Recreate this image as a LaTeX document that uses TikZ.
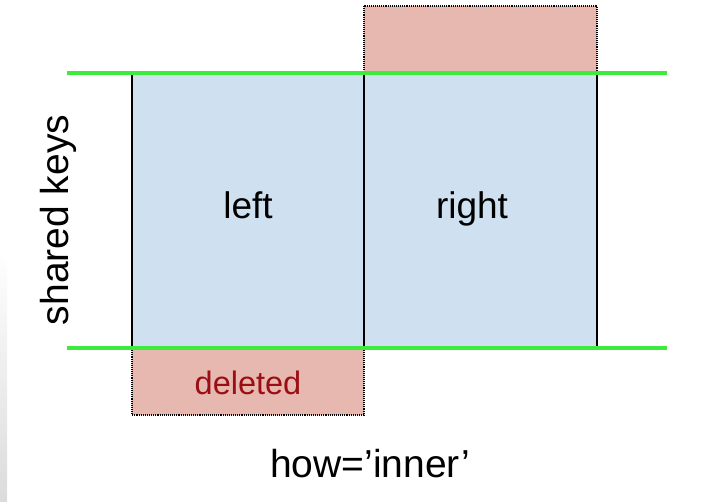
\documentclass[tikz,border=0pt]{standalone}
\usepackage{fontspec}
\setmainfont{Liberation Sans}
\begin{document}
\begin{tikzpicture}[x=1pt,y=-1pt,
  keep/.style={fill=keepblue,draw=black,line width=1.3pt},
  drop/.style={fill=dropred,draw=black,line width=1.1pt,densely dotted},
  keyline/.style={draw=keygreen,line width=3.5pt},
  lbl/.style={font=\fontsize{37}{40}\selectfont,text=black,inner sep=0pt,anchor=base},
  biglbl/.style={lbl,font=\fontsize{39}{42}\selectfont},
  dlbl/.style={font=\fontsize{32.5}{36}\selectfont,text=delred,inner sep=0pt,anchor=base}]
\definecolor{keepblue}{RGB}{207,224,240}
\definecolor{dropred}{RGB}{230,184,175}
\definecolor{keygreen}{RGB}{60,235,60}
\definecolor{delred}{RGB}{155,15,20}
\useasboundingbox (0,0) rectangle (712,501);
\shade[top color=white,bottom color=black!14] (0,250) rectangle (7,501);
% boxes
\path[drop] (364,6) rectangle (597,73);
\path[drop] (132,348) rectangle (364,415);
\path[fill=keepblue] (132,73) rectangle (597,348);
\draw[line width=1.3pt] (132,73) -- (132,348);
\draw[line width=1.3pt] (364,73) -- (364,348);
\draw[line width=1.3pt] (597,73) -- (597,348);
% green key lines
\coordinate (t1) at (67,73);
\coordinate (t2) at (667,73);
\coordinate (b1) at (67,348);
\coordinate (b2) at (667,348);
\draw[keyline] (t1) -- (t2);
\draw[keyline] (b1) -- (b2);
% labels
\node[lbl] (left) at (248,218) {left};
\node[lbl] (right) at (472,218) {right};
\node[dlbl] (del) at (248,394) {deleted};
\node[biglbl,rotate=90] (shared) at (68,220) {shared keys};
\node[biglbl] (how) at (370,477) {how=’inner’};
\end{tikzpicture}
\end{document}
